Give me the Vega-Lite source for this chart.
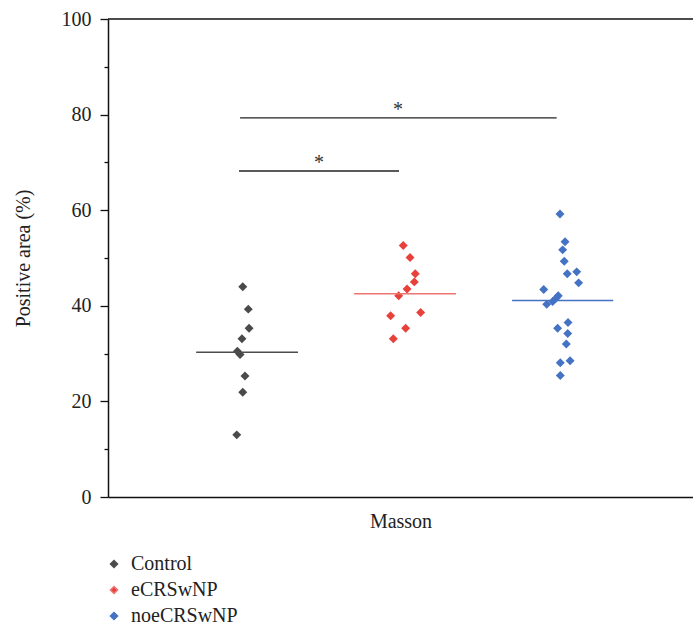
{
  "$schema": "https://vega.github.io/schema/vega-lite/v6.json",
  "width": 585,
  "height": 478,
  "autosize": {"type": "none"},
  "padding": {"left": 108, "top": 19, "right": 0, "bottom": 136},
  "background": "white",
  "config": {
    "view": {"stroke": null},
    "font": "Liberation Serif",
    "axis": {"labelFont": "Liberation Serif", "titleFont": "Liberation Serif", "titleFontWeight": "normal", "grid": false,
      "domainColor": "#111111", "domainWidth": 1.5, "labelFontSize": 20, "labelColor": "#222222",
      "titleFontSize": 20, "titleColor": "#222222"},
    "axisX": {"labels": false, "ticks": false, "titlePadding": 14},
    "axisY": {"tickColor": "#111111", "tickWidth": 1.3, "labelPadding": 9, "titlePadding": 28},
    "legend": {"labelFont": "Liberation Serif"}
  },
  "datasets": {
    "points": [
      {"group": "Control", "pos": 0.975, "value": 44.0},
      {"group": "Control", "pos": 1.010, "value": 39.3},
      {"group": "Control", "pos": 1.015, "value": 35.3},
      {"group": "Control", "pos": 0.970, "value": 33.1},
      {"group": "Control", "pos": 0.941, "value": 30.5},
      {"group": "Control", "pos": 0.958, "value": 29.8},
      {"group": "Control", "pos": 0.989, "value": 25.3},
      {"group": "Control", "pos": 0.975, "value": 21.9},
      {"group": "Control", "pos": 0.937, "value": 13.0},
      {"group": "eCRSwNP", "pos": 1.991, "value": 52.6},
      {"group": "eCRSwNP", "pos": 2.034, "value": 50.1},
      {"group": "eCRSwNP", "pos": 2.067, "value": 46.7},
      {"group": "eCRSwNP", "pos": 2.061, "value": 45.0},
      {"group": "eCRSwNP", "pos": 2.015, "value": 43.5},
      {"group": "eCRSwNP", "pos": 1.962, "value": 42.1},
      {"group": "eCRSwNP", "pos": 1.911, "value": 37.9},
      {"group": "eCRSwNP", "pos": 2.101, "value": 38.6},
      {"group": "eCRSwNP", "pos": 2.006, "value": 35.3},
      {"group": "eCRSwNP", "pos": 1.928, "value": 33.1},
      {"group": "noeCRSwNP", "pos": 2.983, "value": 59.2},
      {"group": "noeCRSwNP", "pos": 3.015, "value": 53.4},
      {"group": "noeCRSwNP", "pos": 3.000, "value": 51.7},
      {"group": "noeCRSwNP", "pos": 3.010, "value": 49.3},
      {"group": "noeCRSwNP", "pos": 3.029, "value": 46.7},
      {"group": "noeCRSwNP", "pos": 3.089, "value": 47.1},
      {"group": "noeCRSwNP", "pos": 3.101, "value": 44.8},
      {"group": "noeCRSwNP", "pos": 2.880, "value": 43.4},
      {"group": "noeCRSwNP", "pos": 2.972, "value": 42.1},
      {"group": "noeCRSwNP", "pos": 2.958, "value": 41.6},
      {"group": "noeCRSwNP", "pos": 2.937, "value": 40.9},
      {"group": "noeCRSwNP", "pos": 2.899, "value": 40.3},
      {"group": "noeCRSwNP", "pos": 3.034, "value": 36.5},
      {"group": "noeCRSwNP", "pos": 2.968, "value": 35.3},
      {"group": "noeCRSwNP", "pos": 3.032, "value": 34.2},
      {"group": "noeCRSwNP", "pos": 3.023, "value": 32.0},
      {"group": "noeCRSwNP", "pos": 3.047, "value": 28.5},
      {"group": "noeCRSwNP", "pos": 2.985, "value": 28.1},
      {"group": "noeCRSwNP", "pos": 2.985, "value": 25.4}
    ],
    "medians": [
      {"group": "Control", "from": 0.68, "to": 1.325, "median": 30.3},
      {"group": "eCRSwNP", "from": 1.68, "to": 2.325, "median": 42.5},
      {"group": "noeCRSwNP", "from": 2.68, "to": 3.32, "median": 41.1}
    ],
    "sig": [
      {"from": 0.951, "to": 1.964, "y": 68.2, "star": 70.9, "mid": 1.458, "label": "*"},
      {"from": 0.958, "to": 2.962, "y": 79.3, "star": 82.0, "mid": 1.957, "label": "*"}
    ]
  },
  "layer": [
    {
      "data": {"name": "points"},
      "mark": {"type": "point", "shape": "diamond", "filled": true, "opacity": 1, "size": 80},
      "encoding": {
        "x": {"field": "pos", "type": "quantitative",
          "scale": {"domain": [0.122, 3.825], "nice": false, "zero": false},
          "axis": {"title": "Masson"}},
        "y": {"field": "value", "type": "quantitative",
          "scale": {"domain": [0, 100], "nice": false},
          "axis": {"title": "Positive area (%)", "values": [0, 10, 20, 30, 40, 50, 60, 70, 80, 90, 100],
            "labelExpr": "datum.value % 20 === 0 ? datum.label : ''",
            "tickSize": {"condition": {"test": "datum.value % 20 !== 0", "value": 4}, "value": 8}}},
        "color": {"field": "group", "type": "nominal",
          "scale": {"domain": ["Control", "eCRSwNP", "noeCRSwNP"], "range": ["#4a4a4a", "#e8413c", "#4472c4"]},
          "legend": {"title": null, "orient": "none", "legendX": -4, "legendY": 535, "direction": "vertical",
            "symbolType": "diamond", "symbolSize": 50, "labelFontSize": 20, "labelColor": "#222222",
            "rowPadding": 6, "labelOffset": 7}}
      }
    },
    {
      "data": {"values": [{"top": 100}]},
      "mark": {"type": "rule", "color": "#111111", "strokeWidth": 1.5},
      "encoding": {"y": {"field": "top", "type": "quantitative", "axis": {"title": "Positive area (%)"}}}
    },
    {
      "data": {"name": "sig"},
      "mark": {"type": "rule", "color": "#222222", "strokeWidth": 1.3},
      "encoding": {
        "x": {"field": "from", "type": "quantitative", "axis": {"title": "Masson"}},
        "x2": {"field": "to"},
        "y": {"field": "y", "type": "quantitative", "axis": {"title": "Positive area (%)"}}
      }
    },
    {
      "data": {"name": "sig"},
      "mark": {"type": "text", "fontSize": 20, "color": "#333333", "baseline": "middle", "dy": 5},
      "encoding": {
        "x": {"field": "mid", "type": "quantitative", "axis": {"title": "Masson"}},
        "y": {"field": "star", "type": "quantitative", "axis": {"title": "Positive area (%)"}},
        "text": {"field": "label"}
      }
    },
    {
      "data": {"name": "medians"},
      "mark": {"type": "rule", "strokeWidth": 1.5},
      "encoding": {
        "x": {"field": "from", "type": "quantitative", "axis": {"title": "Masson"}},
        "x2": {"field": "to"},
        "y": {"field": "median", "type": "quantitative", "axis": {"title": "Positive area (%)"}},
        "stroke": {"field": "group", "type": "nominal", "legend": null,
          "scale": {"domain": ["Control", "eCRSwNP", "noeCRSwNP"], "range": ["#4d4d4d", "#ee7470", "#4472c4"]}}
      }
    }
  ]
}
